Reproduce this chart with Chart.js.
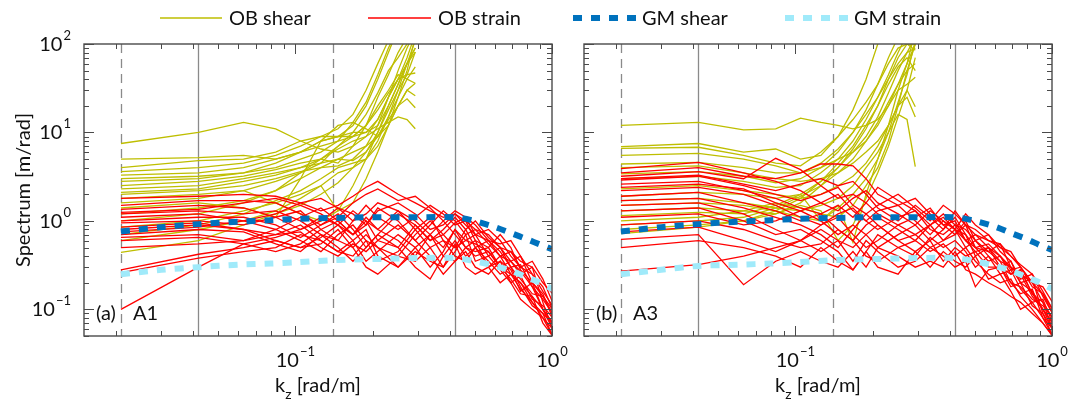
<!DOCTYPE html>
<html>
<head>
<meta charset="utf-8">
<script src="https://cdn.jsdelivr.net/npm/chart.js@4/dist/chart.umd.min.js"></script>
<style>
  body { margin: 0; background: #fff; }
  #wrap { position: relative; width: 1077px; height: 401px; }
  #wrap canvas { position: absolute; left: 0; top: 0; }
</style>
</head>
<body>
<div id="wrap">
  <canvas id="panelA" width="1077" height="401"></canvas>
  <canvas id="panelB" width="1077" height="401"></canvas>
</div>
<script>
// vertical wavenumbers [rad/m]
const kShear = [0.0209, 0.0419, 0.0628, 0.0838, 0.1047, 0.1257, 0.1466, 0.1676, 0.1885, 0.2094, 0.2304, 0.2513, 0.2723, 0.2932];
const kStrain = [0.0209, 0.0419, 0.0628, 0.0838, 0.1047, 0.1257, 0.1466, 0.1676, 0.1885, 0.2094, 0.2513, 0.2932,
  0.3351, 0.3770, 0.4189, 0.4608, 0.5027, 0.5655, 0.6283, 0.6912, 0.7540, 0.8378, 0.9215, 1.0053];
const kGM = [0.0209, 0.03, 0.0419, 0.06, 0.08, 0.1, 0.14, 0.2, 0.3, 0.42, 0.5, 0.6, 0.7, 0.8, 0.9, 1.0];

// integration limits (dashed) and band edges (solid)
const refDashed = [0.0209, 0.1396];
const refSolid = [0.0419, 0.4189];

const xTickExp = [-1, 0];
const yTickExp = [-1, 0, 1, 2];

// A1 observed shear spectra
const shearA1 = [
  [7.5, 10, 13, 11, 8, 6.5, 6, 7, 9, 14, 25, 40, 70, 130],
  [5, 5.2, 5.5, 5, 6, 8, 9, 9, 10, 12, 20, 35, 60, 110],
  [4, 4.8, 5, 6, 8, 9, 9, 12, 20, 40, 80, 150, 200, 250],
  [3.6, 4, 4.5, 5.5, 7, 9, 11, 16, 30, 60, 110, 200, 300, 400],
  [3.3, 3.5, 4, 5, 6, 7, 8, 9, 12, 20, 30, 45, 40, 36],
  [3, 3.2, 3.5, 4, 5, 6, 8, 13, 22, 45, 90, 150, 250, 300],
  [2.8, 3, 3.5, 4.5, 6, 8, 9, 10, 10, 14, 25, 40, 60, 81],
  [2.5, 2.8, 3.2, 3.8, 4.5, 5, 4.5, 7, 12, 25, 45, 80, 120, 150],
  [2.3, 2.5, 3, 3.5, 4, 4.5, 5, 6, 7, 9, 14, 20, 24, 19],
  [2.1, 2.3, 2.8, 3.3, 4, 5, 6.5, 8, 9, 11, 13, 15, 14, 11],
  [2.0, 2.2, 2.5, 3, 3.6, 4, 4.2, 5, 7, 12, 25, 50, 90, 140],
  [1.8, 2, 2.2, 2.8, 3.5, 4.5, 7, 9, 12, 18, 28, 40, 45, 47],
  [1.6, 1.8, 2.2, 1.6, 1.2, 1.0, 1.3, 2.5, 5, 10, 20, 35, 60, 90],
  [1.4, 1.6, 1.4, 1.1, 3, 8, 12, 13, 11, 9, 12, 20, 30, 26],
  [1.2, 1.4, 1.7, 2.2, 3, 4, 5, 4.8, 6, 9, 15, 25, 40, 55],
  [1.0, 1.2, 1.6, 2.2, 3.5, 5, 7, 10, 16, 28, 50, 70, 100, 130],
  [0.85, 1.0, 1.3, 1.6, 2, 2.5, 1.3, 1.6, 3, 6, 12, 25, 50, 120],
  [0.7, 0.9, 1.2, 1.7, 2.2, 3, 4, 4.5, 5, 8, 15, 30, 60, 90],
  [0.6, 0.8, 1.0, 1.3, 1.8, 2.5, 3.5, 4, 6, 10, 18, 30, 45, 81],
  [0.44, 0.6, 0.9, 1.2, 1.5, 2, 2.7, 4, 5, 7, 12, 20, 30, 36],
];

// A1 observed strain spectra
const strainA1 = [
  [1.8, 1.9, 2.0, 1.9, 1.6, 1.3, 1.5, 1.9, 2.4, 2.8, 2.0, 1.6, 1.3, 1.1, 1.2, 1.0, 0.8, 0.7, 0.5, 0.45, 0.35, 0.3, 0.2, 0.15],
  [1.5, 1.7, 1.7, 1.6, 1.2, 0.9, 1.1, 1.6, 2.0, 2.3, 1.7, 1.9, 1.4, 1.0, 1.3, 1.1, 0.9, 0.6, 0.55, 0.6, 0.4, 0.25, 0.18, 0.1],
  [1.35, 1.5, 1.4, 1.1, 0.8, 1.0, 1.4, 1.2, 0.9, 1.3, 1.6, 1.2, 0.8, 0.9, 1.2, 0.9, 0.7, 0.8, 0.6, 0.4, 0.3, 0.35, 0.22, 0.12],
  [1.2, 1.3, 1.2, 1.3, 1.0, 0.7, 0.6, 1.0, 1.5, 1.1, 0.8, 1.1, 1.5, 1.2, 0.9, 1.0, 0.6, 0.5, 0.7, 0.5, 0.28, 0.2, 0.15, 0.08],
  [1.1, 1.2, 1.0, 0.8, 1.1, 1.4, 1.0, 0.7, 0.9, 1.4, 1.0, 0.6, 0.9, 1.3, 1.0, 0.7, 0.8, 0.55, 0.4, 0.35, 0.25, 0.3, 0.12, 0.06],
  [1.0, 1.1, 1.1, 0.9, 0.65, 0.9, 1.2, 0.8, 0.5, 0.7, 1.2, 0.9, 0.6, 0.8, 1.1, 0.8, 0.5, 0.6, 0.45, 0.3, 0.32, 0.18, 0.1, 0.07],
  [0.95, 1.0, 0.9, 1.1, 1.3, 0.8, 0.6, 0.5, 0.7, 0.5, 0.4, 0.7, 1.0, 0.7, 0.5, 0.6, 0.7, 0.4, 0.5, 0.3, 0.22, 0.15, 0.14, 0.09],
  [0.85, 0.95, 0.8, 0.6, 0.5, 0.65, 0.9, 0.6, 0.35, 0.45, 0.7, 0.5, 0.3, 0.45, 0.8, 0.5, 0.4, 0.45, 0.3, 0.25, 0.2, 0.12, 0.08, 0.05],
  [0.8, 0.9, 0.8, 0.7, 0.9, 0.6, 0.45, 0.6, 0.8, 0.4, 0.3, 0.5, 0.7, 0.4, 0.35, 0.5, 0.6, 0.3, 0.35, 0.28, 0.16, 0.2, 0.1, 0.06],
  [0.7, 0.8, 0.75, 0.55, 0.45, 0.7, 0.5, 0.35, 0.5, 0.7, 0.5, 0.3, 0.22, 0.4, 0.6, 0.4, 0.5, 0.35, 0.25, 0.3, 0.18, 0.11, 0.09, 0.07],
  [0.65, 0.7, 0.6, 0.8, 0.6, 0.45, 0.7, 0.9, 0.6, 0.35, 0.45, 0.8, 0.5, 0.3, 0.45, 0.7, 0.35, 0.4, 0.28, 0.2, 0.24, 0.13, 0.11, 0.08],
  [0.6, 0.65, 0.55, 0.45, 0.55, 0.8, 1.0, 0.7, 1.1, 0.8, 0.6, 0.4, 0.7, 1.0, 0.7, 0.5, 0.45, 0.5, 0.3, 0.22, 0.15, 0.14, 0.07, 0.05],
  [0.5, 0.55, 0.6, 0.7, 0.75, 0.5, 0.4, 0.55, 0.45, 0.6, 0.9, 0.6, 0.4, 0.25, 0.35, 0.45, 0.3, 0.25, 0.35, 0.2, 0.13, 0.1, 0.08, 0.06],
  [0.28, 0.42, 0.5, 0.6, 0.5, 0.55, 0.8, 0.5, 0.3, 0.25, 0.4, 0.35, 0.5, 0.6, 0.4, 0.35, 0.5, 0.3, 0.2, 0.25, 0.17, 0.12, 0.09, 0.05],
  [0.26, 0.38, 0.45, 0.5, 0.7, 0.6, 0.45, 0.4, 0.6, 0.5, 0.3, 0.45, 0.35, 0.3, 0.55, 0.3, 0.25, 0.3, 0.4, 0.25, 0.2, 0.14, 0.1, 0.07],
  [0.1, 0.3, 0.55, 0.65, 0.8, 1.1, 0.9, 1.3, 1.0, 0.8, 1.3, 1.0, 0.7, 0.5, 0.8, 0.6, 0.55, 0.45, 0.3, 0.35, 0.27, 0.18, 0.13, 0.09],
  [1.25, 1.35, 1.6, 1.8, 1.5, 1.2, 0.9, 0.7, 1.0, 0.6, 0.5, 0.9, 0.6, 0.7, 0.95, 1.1, 0.7, 0.6, 0.4, 0.45, 0.3, 0.25, 0.16, 0.11],
  [0.75, 0.85, 1.0, 1.2, 1.6, 1.8, 1.4, 1.0, 1.2, 1.6, 1.3, 0.8, 1.1, 0.6, 0.5, 0.8, 1.0, 0.65, 0.5, 0.35, 0.4, 0.2, 0.14, 0.1],
];

// A3 observed shear spectra
const shearA3 = [
  [12, 13, 10.7, 11, 14.5, 13, 12, 11, 12, 14, 20, 35, 60, 100],
  [6.9, 7.5, 6, 6.5, 5, 5.5, 9, 18, 40, 100, 200, 300, 400, 500],
  [6.6, 6.8, 5.5, 4.5, 4.2, 6, 9, 14, 22, 35, 60, 90, 100, 85],
  [5.5, 5.8, 5, 4.2, 3.5, 4, 5, 6, 8, 12, 20, 30, 35, 42],
  [4.4, 4.6, 4, 3.5, 3.5, 4.5, 6.5, 10, 16, 25, 40, 60, 80, 90],
  [4, 4.2, 3.5, 3, 2.8, 3, 3.5, 4.5, 6, 8, 12, 20, 30, 19.5],
  [3.4, 3.6, 3.2, 2.7, 3, 4, 6, 10, 18, 35, 70, 120, 200, 250],
  [3, 3.2, 2.8, 2.4, 2.5, 3.5, 5, 8, 14, 25, 45, 80, 130, 150],
  [2.3, 2.5, 2.2, 2, 1.8, 2, 2.5, 3.2, 4.5, 7, 12, 20, 25, 15],
  [1.9, 2.1, 2, 1.8, 2, 2.8, 4, 6.5, 11, 20, 40, 70, 100, 100],
  [1.7, 1.8, 1.6, 1.4, 1.3, 1.5, 1.8, 2.5, 4, 6, 10, 16, 14, 4.1],
  [1.5, 1.6, 1.5, 1.3, 1.1, 1.0, 1.4, 2, 3, 5, 10, 22, 45, 110],
  [1.3, 1.4, 1.3, 1.2, 1.6, 2.5, 4, 6, 9, 15, 28, 50, 80, 120],
  [1.15, 1.25, 1.2, 1.5, 2, 1.0, 1.5, 0.57, 2, 5, 12, 30, 60, 140],
  [1.0, 1.1, 1.3, 1.6, 1.4, 1.2, 1.1, 1.5, 2.5, 4, 8, 20, 50, 100],
  [0.9, 1.0, 1.1, 1.4, 1.9, 2.5, 3.5, 5, 8, 13, 22, 35, 50, 60],
  [0.8, 0.9, 1.0, 1.2, 1.5, 1.3, 0.6, 0.9, 1.8, 3.5, 7, 15, 30, 70],
  [0.72, 0.85, 1.0, 1.3, 1.8, 2.8, 4.5, 7, 12, 20, 35, 55, 70, 50],
];

// A3 observed strain spectra
const strainA3 = [
  [3.9, 4.6, 3.5, 2.8, 2.2, 1.6, 1.3, 1.8, 2.2, 1.6, 1.2, 0.9, 1.3, 1.0, 0.8, 0.7, 0.5, 0.45, 0.35, 0.3, 0.25, 0.2, 0.12, 0.08],
  [3.5, 4.0, 3.2, 3.0, 3.5, 4.4, 4.4, 4.2, 3.0, 2.0, 1.5, 1.8, 1.2, 0.9, 1.0, 0.6, 0.7, 0.5, 0.4, 0.28, 0.3, 0.18, 0.15, 0.1],
  [3.2, 3.6, 3.0, 5.1, 3.8, 2.5, 1.8, 2.0, 1.6, 2.4, 1.7, 1.3, 0.9, 1.2, 0.9, 0.8, 0.6, 0.7, 0.45, 0.35, 0.22, 0.25, 0.14, 0.09],
  [2.9, 3.2, 2.5, 2.0, 1.7, 2.0, 2.4, 1.5, 1.2, 1.5, 2.0, 1.4, 1.0, 1.5, 1.2, 0.9, 0.8, 0.6, 0.5, 0.4, 0.3, 0.2, 0.18, 0.12],
  [2.6, 2.8, 2.2, 1.8, 1.4, 1.2, 1.5, 1.1, 1.6, 1.2, 0.9, 1.1, 1.4, 0.9, 0.7, 1.0, 0.6, 0.45, 0.55, 0.3, 0.2, 0.16, 0.1, 0.07],
  [2.2, 2.4, 2.0, 1.5, 1.1, 0.9, 1.2, 1.4, 1.0, 0.8, 1.1, 1.3, 0.8, 0.7, 0.9, 0.6, 0.5, 0.55, 0.4, 0.25, 0.28, 0.15, 0.12, 0.06],
  [1.9, 2.1, 1.6, 1.3, 1.0, 1.2, 0.8, 0.6, 0.9, 1.1, 0.8, 0.6, 0.9, 1.1, 0.8, 0.5, 0.6, 0.4, 0.3, 0.35, 0.2, 0.22, 0.09, 0.05],
  [1.7, 1.8, 1.4, 1.1, 0.9, 0.7, 0.5, 0.8, 1.2, 0.9, 0.6, 0.45, 0.6, 0.8, 1.1, 0.7, 0.4, 0.5, 0.35, 0.2, 0.18, 0.13, 0.11, 0.08],
  [1.5, 1.6, 1.2, 0.8, 0.6, 0.9, 1.1, 0.7, 0.5, 0.6, 0.9, 0.7, 0.5, 0.6, 0.7, 0.9, 0.5, 0.35, 0.4, 0.3, 0.25, 0.14, 0.1, 0.06],
  [1.3, 1.4, 1.0, 0.7, 0.8, 0.6, 0.45, 0.28, 0.45, 0.7, 0.5, 0.4, 0.65, 0.5, 0.6, 0.45, 0.3, 0.4, 0.25, 0.28, 0.17, 0.12, 0.13, 0.07],
  [1.1, 1.2, 0.9, 1.0, 1.3, 1.0, 0.7, 0.9, 0.7, 0.5, 0.7, 0.9, 0.6, 0.35, 0.5, 0.4, 0.45, 0.3, 0.3, 0.2, 0.15, 0.17, 0.08, 0.05],
  [0.9, 1.0, 0.8, 0.6, 0.5, 0.55, 0.8, 0.6, 0.4, 0.35, 0.5, 0.6, 0.45, 0.55, 0.4, 0.5, 0.35, 0.25, 0.2, 0.22, 0.14, 0.1, 0.07, 0.05],
  [0.75, 0.85, 0.6, 0.45, 0.6, 0.45, 0.6, 0.35, 0.6, 0.45, 0.3, 0.35, 0.5, 0.4, 0.3, 0.35, 0.18, 0.28, 0.3, 0.18, 0.2, 0.11, 0.09, 0.06],
  [0.62, 0.7, 0.19, 0.35, 0.45, 0.35, 0.3, 0.45, 0.3, 0.5, 0.4, 0.3, 0.35, 0.3, 0.45, 0.28, 0.25, 0.2, 0.17, 0.14, 0.12, 0.09, 0.07, 0.05],
  [0.5, 0.6, 0.5, 0.4, 0.3, 0.5, 0.35, 0.28, 0.45, 0.3, 0.25, 0.45, 0.3, 0.45, 0.35, 0.3, 0.4, 0.22, 0.25, 0.16, 0.1, 0.12, 0.08, 0.06],
  [0.27, 0.32, 0.4, 0.5, 0.6, 0.8, 0.6, 0.5, 0.7, 0.9, 0.6, 0.7, 0.9, 0.6, 0.8, 0.6, 0.45, 0.5, 0.3, 0.25, 0.28, 0.15, 0.1, 0.07],
  [3.0, 3.3, 2.6, 2.2, 2.6, 3.0, 2.5, 2.8, 2.0, 1.4, 1.0, 1.5, 1.1, 0.8, 1.3, 0.9, 0.7, 0.6, 0.55, 0.4, 0.32, 0.25, 0.16, 0.1],
  [2.4, 2.6, 2.3, 1.6, 1.3, 1.6, 2.0, 1.3, 1.0, 1.3, 1.5, 1.0, 0.7, 1.0, 0.8, 1.2, 0.9, 0.7, 0.5, 0.45, 0.3, 0.2, 0.15, 0.09],
];

// Garrett-Munk reference spectra
const gmShearA1 = [0.76, 0.85, 0.92, 0.98, 1.02, 1.05, 1.08, 1.1, 1.1, 1.1, 1.0, 0.85, 0.72, 0.62, 0.54, 0.48];
const gmStrainA1 = [0.25, 0.28, 0.3, 0.32, 0.33, 0.34, 0.36, 0.37, 0.38, 0.38, 0.35, 0.31, 0.27, 0.23, 0.2, 0.17];
const gmShearA3 = [0.76, 0.85, 0.92, 0.98, 1.02, 1.05, 1.08, 1.1, 1.1, 1.1, 1.0, 0.86, 0.72, 0.62, 0.53, 0.47];
const gmStrainA3 = [0.25, 0.28, 0.31, 0.32, 0.33, 0.34, 0.36, 0.37, 0.38, 0.38, 0.35, 0.31, 0.27, 0.23, 0.2, 0.17];

const FONT = 'Lato, "Open Sans", sans-serif';
const AXIS = '#4a4a4a';
const REF = '#8a8a8a';
const COLORS = {
  obShear: 'rgb(190,190,0)',
  obStrain: 'rgb(255,0,0)',
  gmShear: 'rgb(0,114,189)',
  gmStrain: 'rgb(160,234,250)',
};
const GM_DASH = [9, 9];

function spectra(k, rows, color, order) {
  return rows.map((r) => ({
    data: r.map((v, i) => ({ x: k[i], y: v })),
    borderColor: color,
    borderWidth: 1.3,
    pointRadius: 0,
    tension: 0,
    clip: 0,
    order,
  }));
}

function gmLine(values, color, order) {
  return {
    data: values.map((v, i) => ({ x: kGM[i], y: v })),
    borderColor: color,
    borderWidth: 6,
    borderDash: GM_DASH,
    borderCapStyle: 'butt',
    pointRadius: 0,
    tension: 0.3,
    clip: 0,
    order,
  };
}

function powerLabel(ctx, exp, x, y, align) {
  const sup = exp < 0 ? '\u2212' + -exp : String(exp);
  ctx.font = `20px ${FONT}`;
  const w1 = ctx.measureText('10').width;
  ctx.font = `13px ${FONT}`;
  const w2 = ctx.measureText(sup).width;
  const total = w1 + 1 + w2;
  const left = align === 'center' ? x - total / 2 : x - total;
  ctx.font = `20px ${FONT}`;
  ctx.fillText('10', left, y);
  ctx.font = `13px ${FONT}`;
  ctx.fillText(sup, left + w1 + 1, y - 11);
}

function drawLegend(ctx) {
  const y = 18;
  ctx.lineWidth = 1.5;
  ctx.strokeStyle = COLORS.obShear;
  ctx.beginPath(); ctx.moveTo(160, y); ctx.lineTo(222, y); ctx.stroke();
  ctx.strokeStyle = COLORS.obStrain;
  ctx.beginPath(); ctx.moveTo(368, y); ctx.lineTo(431, y); ctx.stroke();
  ctx.lineWidth = 6;
  ctx.setLineDash(GM_DASH);
  ctx.strokeStyle = COLORS.gmShear;
  ctx.beginPath(); ctx.moveTo(573, y); ctx.lineTo(636, y); ctx.stroke();
  ctx.strokeStyle = COLORS.gmStrain;
  ctx.beginPath(); ctx.moveTo(785, y); ctx.lineTo(848, y); ctx.stroke();
  ctx.setLineDash([]);
  ctx.fillStyle = '#111';
  ctx.font = `20px ${FONT}`;
  ctx.textBaseline = 'alphabetic';
  ctx.fillText('OB shear', 229, 25);
  ctx.fillText('OB strain', 438, 25);
  ctx.fillText('GM shear', 642, 25);
  ctx.fillText('GM strain', 854, 25);
}

const frame = {
  id: 'frame',
  beforeDatasetsDraw(chart) {
    const { ctx, chartArea: a, scales: { x } } = chart;
    ctx.save();
    ctx.strokeStyle = REF;
    ctx.lineWidth = 1.3;
    refSolid.forEach((k) => {
      const px = Math.round(x.getPixelForValue(k)) + 0.5;
      ctx.beginPath(); ctx.moveTo(px, a.top); ctx.lineTo(px, a.bottom); ctx.stroke();
    });
    ctx.setLineDash([9, 6]);
    refDashed.forEach((k) => {
      const px = Math.round(x.getPixelForValue(k)) + 0.5;
      ctx.beginPath(); ctx.moveTo(px, a.top); ctx.lineTo(px, a.bottom); ctx.stroke();
    });
    ctx.restore();
  },
  afterDraw(chart, args, opts) {
    const { ctx, chartArea: a, scales: { x, y } } = chart;
    ctx.save();
    ctx.strokeStyle = AXIS;
    ctx.lineWidth = 1;
    ctx.beginPath();
    // minor and major ticks on all four sides, pointing inward
    for (let d = -2; d <= 0; d++) {
      for (let m = 1; m <= 9; m++) {
        const v = m * 10 ** d;
        if (v < x.min - 1e-9 || v > x.max + 1e-9) continue;
        const px = Math.round(x.getPixelForValue(v)) + 0.5;
        const len = m === 1 ? 10 : 5;
        ctx.moveTo(px, a.bottom); ctx.lineTo(px, a.bottom - len);
        ctx.moveTo(px, a.top); ctx.lineTo(px, a.top + len);
      }
    }
    for (let d = -2; d <= 2; d++) {
      for (let m = 1; m <= 9; m++) {
        const v = m * 10 ** d;
        if (v < y.min - 1e-9 || v > y.max + 1e-9) continue;
        const py = Math.round(y.getPixelForValue(v)) + 0.5;
        const len = m === 1 ? 10 : 5;
        ctx.moveTo(a.left, py); ctx.lineTo(a.left + len, py);
        ctx.moveTo(a.right, py); ctx.lineTo(a.right - len, py);
      }
    }
    ctx.stroke();
    ctx.lineWidth = 1.4;
    ctx.strokeRect(a.left, a.top, a.right - a.left, a.bottom - a.top);

    ctx.fillStyle = '#111';
    ctx.textBaseline = 'alphabetic';
    xTickExp.forEach((e) => powerLabel(ctx, e, x.getPixelForValue(10 ** e), 367, 'center'));
    if (opts.yLabels) {
      yTickExp.forEach((e) => powerLabel(ctx, e, a.left - 13, y.getPixelForValue(10 ** e) + 7, 'right'));
      ctx.save();
      ctx.font = `20px ${FONT}`;
      ctx.textAlign = 'center';
      ctx.translate(30, 190);
      ctx.rotate(-Math.PI / 2);
      ctx.fillText('Spectrum [m/rad]', 0, 0);
      ctx.restore();
    }

    // axis title k_z [rad/m]
    const cx = (a.left + a.right) / 2;
    ctx.font = `20px ${FONT}`;
    const wk = ctx.measureText('k').width;
    const wr = ctx.measureText(' [rad/m]').width;
    ctx.font = `14px ${FONT}`;
    const wz = ctx.measureText('z').width;
    let tx = cx - (wk + wz + wr) / 2;
    ctx.font = `20px ${FONT}`;
    ctx.fillText('k', tx, 392);
    ctx.font = `14px ${FONT}`;
    ctx.fillText('z', tx + wk, 399);
    ctx.font = `20px ${FONT}`;
    ctx.fillText(' [rad/m]', tx + wk + wz, 392);

    // panel tag
    ctx.fillText(opts.tag, a.left + 12, 320);
    ctx.fillText(opts.site, a.left + 49, 320);

    if (opts.legend) drawLegend(ctx);
    ctx.restore();
  },
};

function makePanel(id, datasets, padding, frameOpts) {
  return new Chart(document.getElementById(id), {
    type: 'line',
    data: { datasets },
    options: {
      responsive: false,
      animation: false,
      events: [],
      layout: { padding },
      scales: {
        x: { type: 'logarithmic', min: 0.015, max: 1, display: false },
        y: { type: 'logarithmic', min: 0.05, max: 100, display: false },
      },
      plugins: {
        legend: { display: false },
        tooltip: { enabled: false },
        frame: frameOpts,
      },
    },
    plugins: [frame],
  });
}

makePanel('panelA', [
  gmLine(gmStrainA1, COLORS.gmStrain, 0),
  gmLine(gmShearA1, COLORS.gmShear, 1),
  ...spectra(kStrain, strainA1, COLORS.obStrain, 2),
  ...spectra(kShear, shearA1, COLORS.obShear, 3),
], { left: 84, right: 525, top: 44, bottom: 65 }, { tag: '(a)', site: 'A1', yLabels: true, legend: true });

makePanel('panelB', [
  gmLine(gmStrainA3, COLORS.gmStrain, 0),
  gmLine(gmShearA3, COLORS.gmShear, 1),
  ...spectra(kStrain, strainA3, COLORS.obStrain, 2),
  ...spectra(kShear, shearA3, COLORS.obShear, 3),
], { left: 584, right: 25, top: 44, bottom: 65 }, { tag: '(b)', site: 'A3', yLabels: false, legend: false });
</script>
</body>
</html>
